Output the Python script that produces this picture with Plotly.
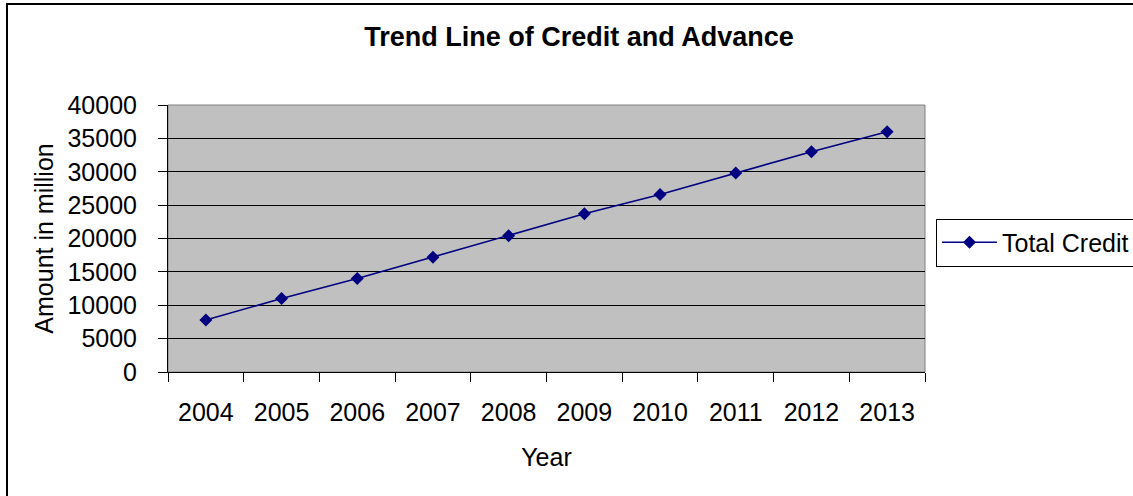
import plotly.graph_objects as go

years = ["2004", "2005", "2006", "2007", "2008", "2009", "2010", "2011", "2012", "2013"]
total_credit = [7800, 11000, 14000, 17200, 20400, 23700, 26600, 29800, 33000, 36000]
y_ticks = [0, 5000, 10000, 15000, 20000, 25000, 30000, 35000, 40000]

W, H = 1133, 496
L, R, T, B = 168, 925, 105, 372
pw, ph = R - L, B - T

def px_x(x):
    return (x - L) / pw

def px_y(y):
    return (B - y) / ph

fig = go.Figure()
fig.add_trace(go.Scatter(
    x=years, y=total_credit, name="Total Credit", mode="lines+markers",
    line=dict(color="#000080", width=1.6),
    marker=dict(symbol="diamond", size=10, color="#000080"),
))

font = "Liberation Sans, Arial, sans-serif"
fs = 25
fig.update_layout(
    width=W, height=H,
    margin=dict(l=L, r=W - R, t=T, b=H - B, pad=0, autoexpand=False),
    paper_bgcolor="white", plot_bgcolor="#C0C0C0",
    font=dict(family=font, size=fs, color="black"),
    title=dict(text="<b>Trend Line of Credit and Advance</b>", x=579 / W, xref="container",
               xanchor="center", y=1 - 37 / H, yref="container", yanchor="middle",
               font=dict(size=27, family=font, color="black")),
    showlegend=True,
    legend=dict(x=936 / W, xref="container", xanchor="left",
                y=1 - 242.5 / H, yref="container", yanchor="middle",
                bordercolor="black", borderwidth=1, bgcolor="white",
                font=dict(size=fs, family=font, color="black"),
                itemwidth=55, tracegroupgap=0),
    xaxis=dict(type="category", range=[-0.5, 9.5], showgrid=False, ticks="outside",
               tickson="boundaries",
               ticklen=9, tickcolor="black", tickwidth=1,
               showline=True, linecolor="black", linewidth=1,
               ticklabelstandoff=18,
               title=dict(text="Year", standoff=23, font=dict(size=fs)),
               tickfont=dict(size=fs), fixedrange=True),
    yaxis=dict(range=[0, 40000], tickvals=y_ticks, tickformat="d",
               showgrid=True, gridcolor="black", gridwidth=1,
               ticks="outside", ticklen=9, tickcolor="black",
               ticklabelstandoff=16,
               showline=True, linecolor="black", linewidth=1, zeroline=False,
               title=dict(text="Amount in million", standoff=6, font=dict(size=fs)),
               tickfont=dict(size=fs), fixedrange=True),
    shapes=[
        dict(type="rect", xref="paper", yref="paper", x0=0, x1=1, y0=0, y1=1,
             line=dict(color="#808080", width=1), layer="below"),
        dict(type="rect", xref="paper", yref="paper", x0=px_x(7), x1=px_x(1150),
             y0=px_y(520), y1=px_y(4), line=dict(color="black", width=2), layer="below"),
    ],
)

fig.write_html("out.html", config={"displayModeBar": False},
               post_script="document.body.style.margin='0px';")
